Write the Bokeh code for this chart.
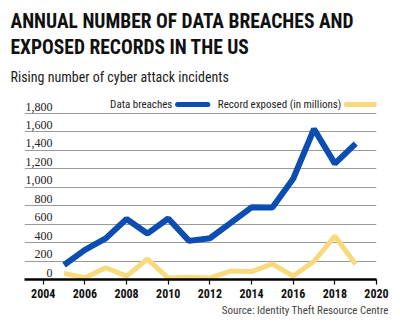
from bokeh.plotting import figure
from bokeh.models import FixedTicker, Range1d, Title, ColumnDataSource, LabelSet
from bokeh.core.properties import value
from bokeh.embed import file_html
from bokeh.resources import INLINE

# ---------------- data ----------------
years = [2005, 2006, 2007, 2008, 2009, 2010, 2011, 2012, 2013, 2014, 2015, 2016, 2017, 2018, 2019]
data_breaches = [157, 321, 446, 656, 498, 662, 419, 447, 614, 783, 781, 1093, 1632, 1257, 1473]
records_exposed = [67, 19, 128, 36, 222, 16, 23, 17, 92, 86, 169, 37, 198, 471, 165]

y_ticks = [0, 200, 400, 600, 800, 1000, 1200, 1400, 1600, 1800]
y_tick_labels = ["0", "200", "400", "600", "800", "1,000", "1,200", "1,400", "1,600", "1,800"]
x_ticks = [2004, 2006, 2008, 2010, 2012, 2014, 2016, 2018, 2020]

title_lines = ["ANNUAL NUMBER OF DATA BREACHES AND", "EXPOSED RECORDS IN THE US"]
subtitle = "Rising number of cyber attack incidents"
source_note = "Source: Identity Theft Resource Centre"
series_names = ["Data breaches", "Record exposed (in millions)"]

# ---------------- styles ----------------
FONT = "Roboto Condensed"
BLUE = "#0b4db0"
YELLOW = "#f8da7c"
GRID = "#9a9a9a"

p = figure(width=400, height=332, title=None,
           x_range=Range1d(2003.1, 2020.0), y_range=Range1d(0, 2028),
           output_backend="svg", toolbar_location=None,
           min_border_left=24, min_border_right=24, min_border_top=92, min_border_bottom=53)
p.outline_line_color = None
p.background_fill_color = "white"
p.border_fill_color = "white"

# titles (last added = topmost)
sub = Title(text=subtitle, text_font=FONT, text_font_size="14px", text_font_style="normal",
            text_color="#222222", align="left", offset=-14, standoff=15)
p.add_layout(sub, "above")
for line, so in zip(reversed(title_lines), [2, 0]):
    t = Title(text=line, text_font=FONT, text_font_size="19.5px", text_font_style="bold",
              text_color="#111111", align="left", offset=-14, standoff=so)
    p.add_layout(t, "above")

src = Title(text=source_note, text_font=FONT, text_font_size="11px", text_font_style="normal",
            text_color="#444444", align="right", offset=-12, standoff=2)
p.add_layout(src, "below")
# small bottom spacer below the source line
p.add_layout(Title(text=" ", text_font=FONT, text_font_size="4px", standoff=4), "below")

# grid
p.yaxis.visible = False
p.ygrid.ticker = FixedTicker(ticks=y_ticks)
p.ygrid.grid_line_color = GRID
p.ygrid.grid_line_width = 1
p.xgrid.grid_line_color = None

# x axis
xa = p.xaxis[0]
xa.ticker = FixedTicker(ticks=x_ticks)
xa.axis_line_color = "black"
xa.axis_line_width = 2.5
xa.major_tick_line_color = "black"
xa.major_tick_line_width = 1.2
xa.major_tick_out = 5
xa.major_tick_in = 0
xa.minor_tick_line_color = None
xa.major_label_text_font = FONT
xa.major_label_text_font_size = "12px"
xa.major_label_text_font_style = "bold"
xa.major_label_text_color = "#111111"
xa.major_label_standoff = 4

# y tick labels sitting above their gridlines
ysrc = ColumnDataSource(dict(y=y_ticks, label=y_tick_labels, x=[2004.45] * len(y_ticks)))
ylabels = LabelSet(x="x", y="y", text="label", source=ysrc, text_align="right",
                   text_baseline="alphabetic", y_offset=3, text_font=FONT,
                   text_font_size="12px", text_color="#222222")
p.add_layout(ylabels)

# series
p.line(years, records_exposed, line_color=YELLOW, line_width=5)
p.line(years, data_breaches, line_color=BLUE, line_width=6)

# legend (label then swatch)
leg_y = 1898
p.text(x=[2010.2], y=[leg_y], text=[series_names[0]], text_align="right", text_baseline="middle",
       text_font=value(FONT), text_font_size="11px", text_color="#222222")
p.segment(x0=[2010.45], y0=[leg_y], x1=[2011.9], y1=[leg_y], line_color=BLUE, line_width=5,
          line_cap="round")
p.text(x=[2012.38], y=[leg_y], text=[series_names[1]], text_align="left", text_baseline="middle",
       text_font=value(FONT), text_font_size="11px", text_color="#222222")
p.segment(x0=[2018.55], y0=[leg_y], x1=[2019.95], y1=[leg_y], line_color=YELLOW, line_width=5,
          line_cap="round")

open("out.html", "w").write(file_html(p, INLINE))
